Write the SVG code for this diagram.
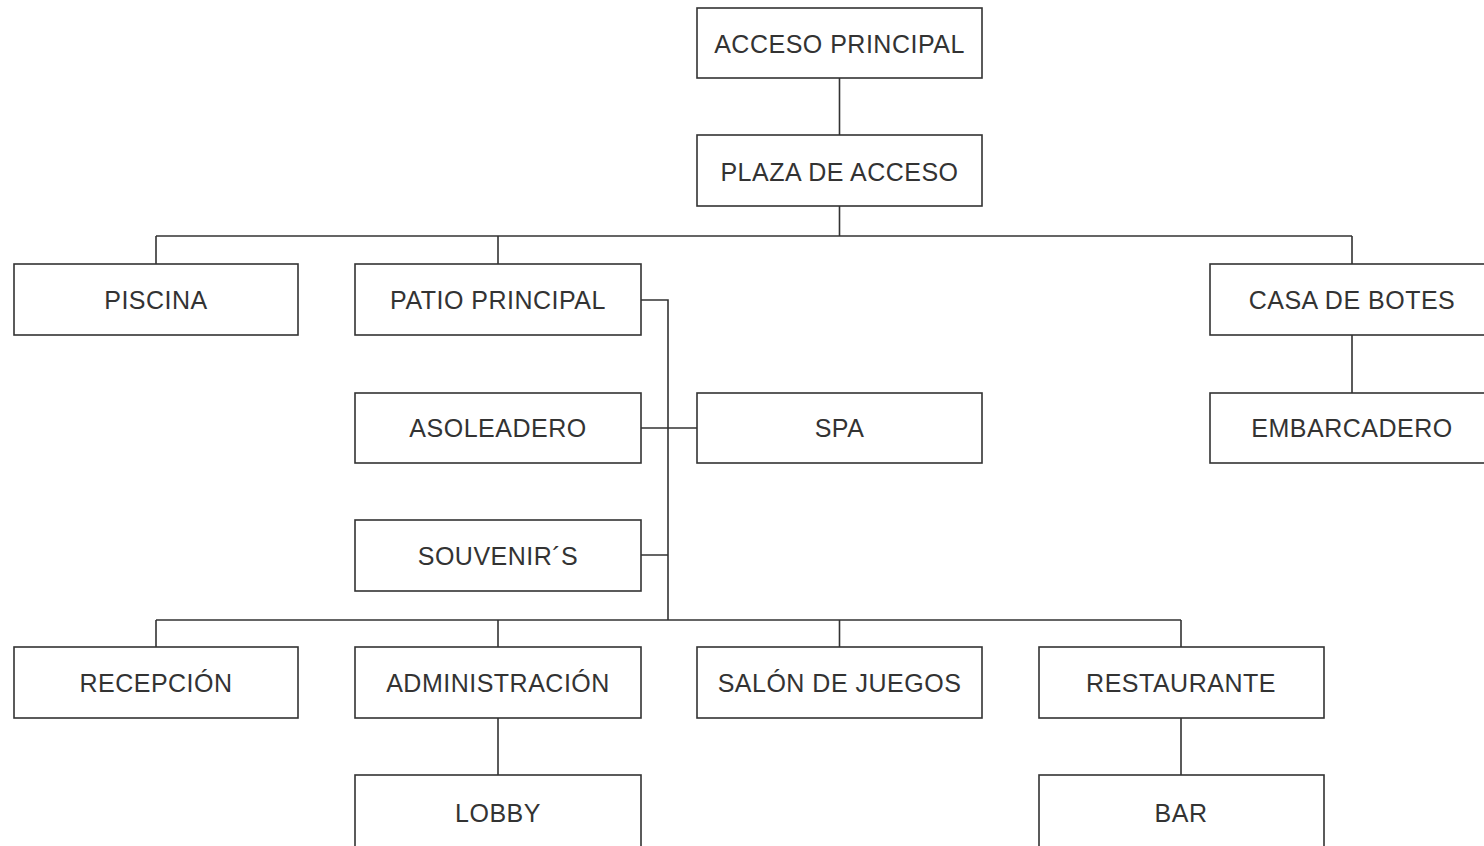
<svg xmlns="http://www.w3.org/2000/svg" width="1484" height="846" viewBox="0 0 1484 846">
<style>
.box{fill:#fff;stroke:#333;stroke-width:1.6}
.lbl{font-family:"Liberation Sans",Arial,sans-serif;font-size:25px;fill:#333;text-anchor:middle;letter-spacing:0.5px}
.con{fill:none;stroke:#333;stroke-width:1.6}
</style>
<rect width="1484" height="846" fill="#fff"/>
<g id="connectors">
<path class="con" d="M839.5 78V135M839.5 206V236M156 236H1352M156 236V264M498 236V264M1352 236V264M1352 335V393"/>
<path class="con" d="M641 300H668V620M641 428H697M641 555H668M156 620H1181M156 620V647M498 620V647M839.5 620V647M1181 620V647M498 718V775M1181 718V775"/>
</g>
<g id="acceso-principal"><rect class="box" x="697" y="8" width="285" height="70"/><text class="lbl" x="839.5" y="53">ACCESO PRINCIPAL</text></g>
<g id="plaza-de-acceso"><rect class="box" x="697" y="135" width="285" height="71"/><text class="lbl" x="839.5" y="181">PLAZA DE ACCESO</text></g>
<g id="piscina"><rect class="box" x="14" y="264" width="284" height="71"/><text class="lbl" x="156" y="309">PISCINA</text></g>
<g id="patio-principal"><rect class="box" x="355" y="264" width="286" height="71"/><text class="lbl" x="498" y="309">PATIO PRINCIPAL</text></g>
<g id="casa-de-botes"><rect class="box" x="1210" y="264" width="285" height="71"/><text class="lbl" x="1352" y="309">CASA DE BOTES</text></g>
<g id="asoleadero"><rect class="box" x="355" y="393" width="286" height="70"/><text class="lbl" x="498" y="437">ASOLEADERO</text></g>
<g id="spa"><rect class="box" x="697" y="393" width="285" height="70"/><text class="lbl" x="839.5" y="437">SPA</text></g>
<g id="embarcadero"><rect class="box" x="1210" y="393" width="285" height="70"/><text class="lbl" x="1352" y="437">EMBARCADERO</text></g>
<g id="souvenirs"><rect class="box" x="355" y="520" width="286" height="71"/><text class="lbl" x="498" y="565">SOUVENIR´S</text></g>
<g id="recepcion"><rect class="box" x="14" y="647" width="284" height="71"/><text class="lbl" x="156" y="692">RECEPCIÓN</text></g>
<g id="administracion"><rect class="box" x="355" y="647" width="286" height="71"/><text class="lbl" x="498" y="692">ADMINISTRACIÓN</text></g>
<g id="salon-de-juegos"><rect class="box" x="697" y="647" width="285" height="71"/><text class="lbl" x="839.5" y="692">SALÓN DE JUEGOS</text></g>
<g id="restaurante"><rect class="box" x="1039" y="647" width="285" height="71"/><text class="lbl" x="1181" y="692">RESTAURANTE</text></g>
<g id="lobby"><rect class="box" x="355" y="775" width="286" height="80"/><text class="lbl" x="498" y="822">LOBBY</text></g>
<g id="bar"><rect class="box" x="1039" y="775" width="285" height="80"/><text class="lbl" x="1181" y="822">BAR</text></g>
</svg>
